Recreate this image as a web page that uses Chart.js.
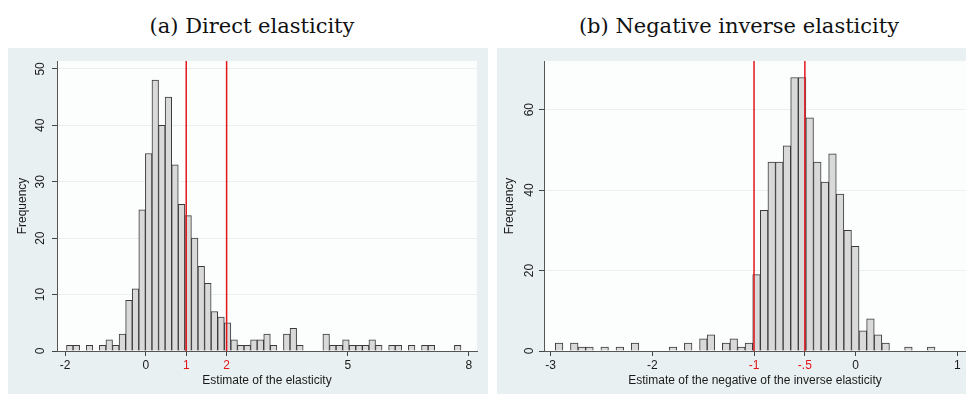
<!DOCTYPE html>
<html>
<head>
<meta charset="utf-8">
<script src="https://cdn.jsdelivr.net/npm/chart.js@4.4.1/dist/chart.umd.min.js"></script>
<style>
  html, body { margin: 0; padding: 0; background: #ffffff; width: 966px; height: 394px; overflow: hidden; }
  .title { position: absolute; top: 14px; width: 600px; line-height: 24px; text-align: center;
           font-family: "DejaVu Serif", "Liberation Serif", serif; font-size: 21px; color: #111; white-space: nowrap; }
  .panel { position: absolute; top: 48px; height: 346px; background: #E9F0F2; }
  .panel canvas { position: absolute; left: 0; top: 0; }
</style>
</head>
<body>
<div class="title" style="left:-48px">(a) Direct elasticity</div>
<div class="title" style="left:439px">(b) Negative inverse elasticity</div>
<div class="panel" style="left:8px;width:480px"><canvas id="direct" width="480" height="346"></canvas></div>
<div class="panel" style="left:497px;width:469px"><canvas id="inverse" width="469" height="346"></canvas></div>

<script>
// ---- (a) Direct elasticity: histogram counts per bin ----
const directBinStart = -1.965;
const directBinWidth = 0.1628;
const directCounts = [1, 1, 0, 1, 0, 1, 2, 1, 3, 9,
                      11, 25, 35, 48, 40, 45, 33, 26, 24, 20,
                      15, 12, 7, 6, 5, 2, 1, 1, 2, 2,
                      3, 1, 0, 3, 4, 1, 0, 0, 0, 3,
                      1, 1, 2, 1, 1, 1, 2, 1, 0, 1,
                      1, 0, 1, 0, 1, 1, 0, 0, 0, 1];
const directXTicks = [-2, 0, 1, 2, 5, 8];
const directXLabels = ['-2', '0', '1', '2', '5', '8'];
const directYTicks = [0, 10, 20, 30, 40, 50];
const directMarkers = [1, 2];

// ---- (b) Negative inverse elasticity: histogram counts per bin ----
const inverseBinStart = -2.955;
const inverseBinWidth = 0.0747;
const inverseCounts = [2, 0, 2, 1, 1, 0, 1, 0, 1, 0,
                       2, 0, 0, 0, 0, 1, 0, 2, 0, 3,
                       4, 0, 2, 3, 1, 2, 19, 35, 47, 47,
                       51, 68, 68, 58, 47, 42, 49, 39, 30, 26,
                       5, 8, 4, 2, 0, 0, 1, 0, 0, 1];
const inverseXTicks = [-3, -2, -1, -0.5, 0, 1];
const inverseXLabels = ['-3', '-2', '-1', '-.5', '0', '1'];
const inverseYTicks = [0, 20, 40, 60];
const inverseMarkers = [-1, -0.5];

Chart.defaults.font.family = '"Liberation Sans", Arial, sans-serif';
Chart.defaults.font.size = 12;
Chart.defaults.color = '#1a1a1a';

const RED = '#E3161B';

// White plot region behind the bars
const plotBackground = {
  id: 'plotBackground',
  beforeDraw(chart) {
    const { ctx, chartArea: a } = chart;
    ctx.save();
    ctx.fillStyle = '#FCFDFD';
    ctx.fillRect(a.left, a.top, a.right - a.left, a.bottom - a.top);
    ctx.restore();
  }
};

// Vertical reference lines at the marked values
const markerLines = {
  id: 'markerLines',
  afterDatasetsDraw(chart, args, opts) {
    const { ctx, chartArea: a, scales: { x } } = chart;
    ctx.save();
    ctx.strokeStyle = RED;
    ctx.lineWidth = 1.5;
    (opts.values || []).forEach(v => {
      const px = x.getPixelForValue(v);
      ctx.beginPath();
      ctx.moveTo(px, a.top);
      ctx.lineTo(px, a.bottom);
      ctx.stroke();
    });
    ctx.restore();
  }
};

function histogram(canvasId, cfg) {
  const points = cfg.counts.map((c, i) => ({ x: cfg.binStart + cfg.binWidth * (i + 0.5), y: c }));
  return new Chart(document.getElementById(canvasId), {
    type: 'bar',
    data: {
      datasets: [{
        data: points,
        backgroundColor: '#D9D9D9',
        borderColor: '#3A3A3A',
        borderWidth: 1,
        barPercentage: 1,
        categoryPercentage: 1
      }]
    },
    options: {
      responsive: false,
      animation: false,
      devicePixelRatio: 1,
      layout: { padding: { top: 13, right: cfg.padRight, left: 0, bottom: 0 } },
      plugins: {
        legend: { display: false },
        tooltip: { enabled: false },
        markerLines: { values: cfg.markers }
      },
      scales: {
        x: {
          type: 'linear',
          offset: false,
          min: cfg.xMin,
          max: cfg.xMax,
          afterBuildTicks: s => { s.ticks = cfg.xTicks.map(v => ({ value: v })); },
          afterFit: s => { s.height = 43; },
          grid: { display: true, drawOnChartArea: false, offset: false, tickLength: 5, tickColor: '#444', tickWidth: 1 },
          border: { display: true, color: '#555', width: 1 },
          ticks: {
            autoSkip: false,
            maxRotation: 0,
            padding: 2,
            callback: (v) => cfg.xLabels[cfg.xTicks.indexOf(v)],
            color: (c) => cfg.markers.includes(c.tick.value) ? RED : '#1a1a1a'
          },
          title: {
            display: true,
            text: cfg.xTitle,
            font: { size: 12 },
            color: '#1a1a1a',
            padding: { top: 0, bottom: 6.3 }
          }
        },
        y: {
          min: 0,
          max: cfg.yMax,
          afterBuildTicks: s => { s.ticks = cfg.yTicks.map(v => ({ value: v })); },
          afterFit: s => { s.width = cfg.yWidth; },
          grid: { color: '#EAF0F0', lineWidth: 1, tickLength: 5, tickColor: '#444' },
          border: { display: true, color: '#555', width: 1 },
          ticks: {
            minRotation: 90,
            maxRotation: 90,
            crossAlign: 'center',
            padding: cfg.yTickPad
          },
          title: {
            display: true,
            text: 'Frequency',
            font: { size: 12 },
            color: '#1a1a1a',
            padding: { top: cfg.yTitlePad, bottom: 0 }
          }
        }
      }
    },
    plugins: [plotBackground, markerLines]
  });
}

histogram('direct', {
  counts: directCounts, binStart: directBinStart, binWidth: directBinWidth,
  xTicks: directXTicks, xLabels: directXLabels, yTicks: directYTicks, markers: directMarkers,
  xMin: -2.2, xMax: 8.2, yMax: 51.4,
  xTitle: 'Estimate of the elasticity',
  yWidth: 49, padRight: 11, yTickPad: 4.9, yTitlePad: 7.4
});

histogram('inverse', {
  counts: inverseCounts, binStart: inverseBinStart, binWidth: inverseBinWidth,
  xTicks: inverseXTicks, xLabels: inverseXLabels, yTicks: inverseYTicks, markers: inverseMarkers,
  xMin: -3.066, xMax: 1.085, yMax: 72.1,
  xTitle: 'Estimate of the negative of the inverse elasticity',
  yWidth: 47, padRight: 0, yTickPad: 2.9, yTitlePad: 5.7
});
</script>
</body>
</html>
